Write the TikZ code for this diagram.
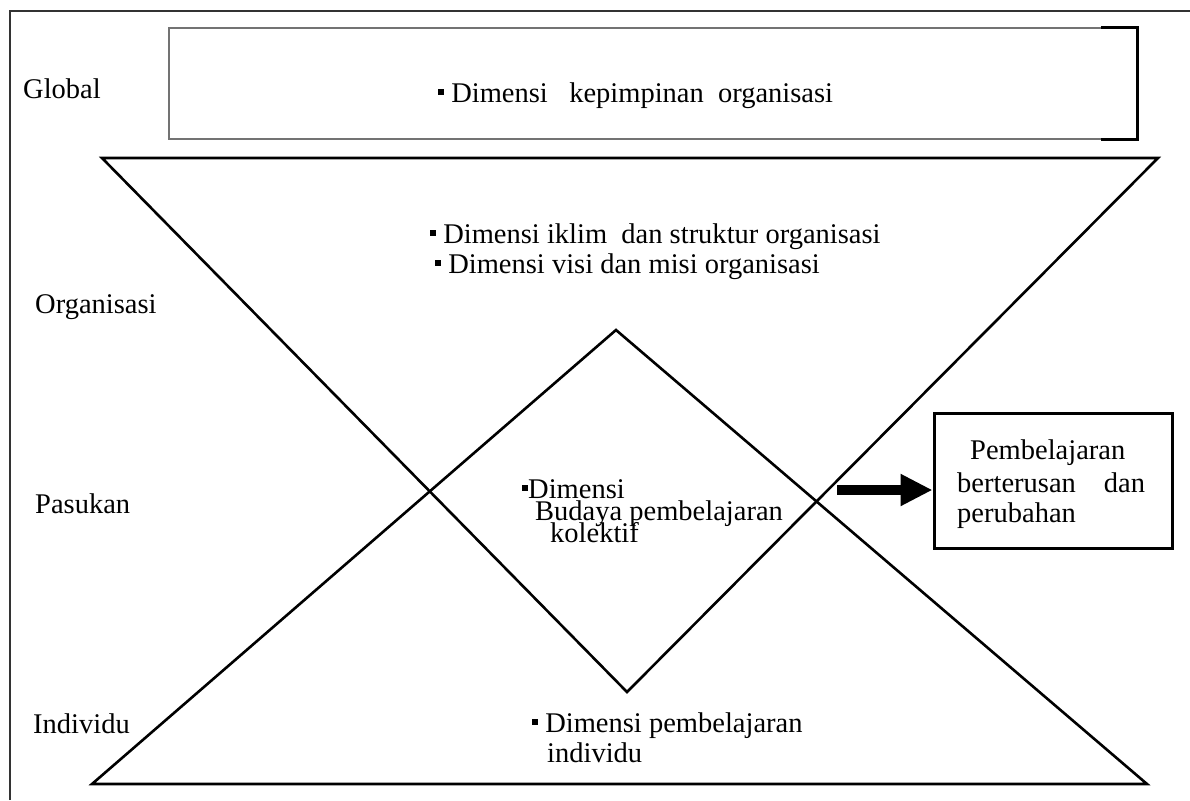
\documentclass[tikz,border=0pt]{standalone}
\usepackage{fontspec}
\setmainfont{Liberation Serif}
\usetikzlibrary{arrows.meta}
\newcommand{\sqb}{\rule[0.26em]{0.21em}{0.21em}}
\begin{document}
\begin{tikzpicture}[x=1pt,y=-1pt,
  lbl/.style={anchor=base west, inner sep=0pt, font=\fontsize{28.5}{30}\selectfont},
  frame/.style={line width=2pt, draw=black!80},
  hg/.style={line width=2.6pt, line join=miter},
  gboxst/.style={draw=black!55, line width=1.5pt, minimum width=968pt, minimum height=111pt, inner sep=0pt},
  brk/.style={line width=3pt},
  rboxst/.style={draw, line width=3pt, minimum width=238pt, minimum height=135pt, inner sep=0pt},
  bigarrow/.style={line width=10pt, -{Triangle[length=32pt,width=30pt]}},
]
\useasboundingbox (0,0) rectangle (1190,800);
% outer frame (open at right and bottom)
\draw[frame] (10,800) -- (10,11) -- (1190,11);

% top box with bracket
\node[gboxst] (gb) at (653,83.5) {};
\draw[brk] ([xshift=-37pt]gb.north east) -- (gb.north east) -- (gb.south east) -- ([xshift=-37pt]gb.south east);

% hourglass
\coordinate (tl) at (102,158);
\coordinate (tr) at (1158,158);
\coordinate (ta) at (627,692);
\coordinate (bl) at (92,784);
\coordinate (br) at (1147,784);
\coordinate (ba) at (616,330);
\draw[hg] (tl) -- (tr) -- (ta) -- cycle;
\draw[hg] (bl) -- (br) -- (ba) -- cycle;

% right box and arrow
\node[rboxst] (rb) at (1053,480.5) {};
\coordinate (as) at (837,490);
\draw[bigarrow] (as) -- (as -| rb.west);

% level labels
\node[lbl] (lglobal) at (23,98) {Global};
\node[lbl] (lorg) at (35,313) {Organisasi};
\node[lbl] (lpas) at (35,513) {Pasukan};
\node[lbl] (lind) at (33,733) {Individu};

% texts
\node[lbl] (t1) at (438,102) {\sqb\ Dimensi\hspace{0.75em}kepimpinan\hspace{0.5em}organisasi};
\node[lbl] (t2) at (430,243) {\sqb\ Dimensi iklim\hspace{0.5em}dan struktur organisasi};
\node[lbl] (t3) at (435,273) {\sqb\ Dimensi visi dan misi organisasi};
\node[lbl] (t4) at (522,498) {\sqb Dimensi};
\node[lbl] (t5) at (535,520) {Budaya pembelajaran};
\node[lbl] (t6) at (550,542) {kolektif};
\node[lbl] (t7) at (532,732) {\sqb\ Dimensi pembelajaran};
\node[lbl] (t8) at (547,762) {individu};
\node[lbl] (r1) at (970,459) {Pembelajaran};
\node[lbl] (r2) at (957,492) {berterusan\hspace{28pt}dan};
\node[lbl] (r3) at (957,522) {perubahan};
\end{tikzpicture}
\end{document}
